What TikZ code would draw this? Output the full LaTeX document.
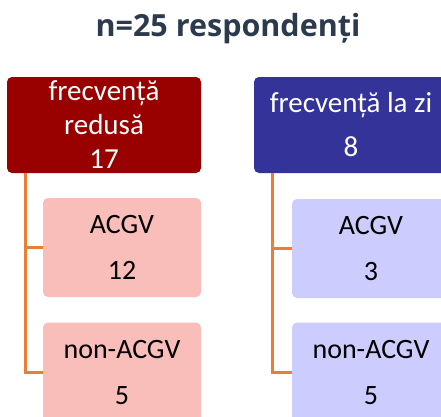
\documentclass[tikz,border=0pt]{standalone}
\usepackage{fontspec}
\setmainfont{Carlito}
\newfontfamily\titlefont{Open Sans}
\definecolor{darkred}{RGB}{153,0,0}
\definecolor{darkblue}{RGB}{51,51,153}
\definecolor{lightred}{RGB}{249,189,186}
\definecolor{lightblue}{RGB}{204,204,255}
\definecolor{conn}{RGB}{237,125,49}
\definecolor{titlecol}{RGB}{44,58,78}
\begin{document}
\begin{tikzpicture}[x=1pt,y=-1pt,
  box/.style={rectangle, rounded corners=5pt, inner sep=0pt, align=center, anchor=center},
  topbox/.style={box, minimum width=194pt, minimum height=96pt, text=white},
  childbox/.style={box, minimum width=158pt, minimum height=99pt, text=black,
     font=\fontsize{28}{46}\selectfont},
  connector/.style={draw=conn, line width=3pt}]
\useasboundingbox (0,0) rectangle (441,416);
\clip (0,0) rectangle (441,416);
\node[font=\titlefont\bfseries\fontsize{30.5}{36}\selectfont, text=titlecol] (title) at (228,29) {n=25 respondenți};
\node[topbox, fill=darkred, font=\fontsize{29}{34}\selectfont] (tl) at (104,125) {frecvență\\redusă\\17};
\node[topbox, fill=darkblue, font=\fontsize{29}{44}\selectfont] (tr) at (351,125) {frecvență la zi\\8};
\node[childbox, fill=lightred] (la) at (122,247.5) {ACGV\\12};
\node[childbox, fill=lightred] (lb) at (122,372) {non-ACGV\\5};
\node[childbox, fill=lightblue] (ra) at (371,248.5) {ACGV\\3};
\node[childbox, fill=lightblue] (rb) at (371,372) {non-ACGV\\5};
\coordinate (lt) at (25,173);
\coordinate (rt) at (272,173);
\draw[connector] (lt) |- (la.west);
\draw[connector] (lt) |- (lb.west);
\draw[connector] (rt) |- (ra.west);
\draw[connector] (rt) |- (rb.west);
\end{tikzpicture}
\end{document}
